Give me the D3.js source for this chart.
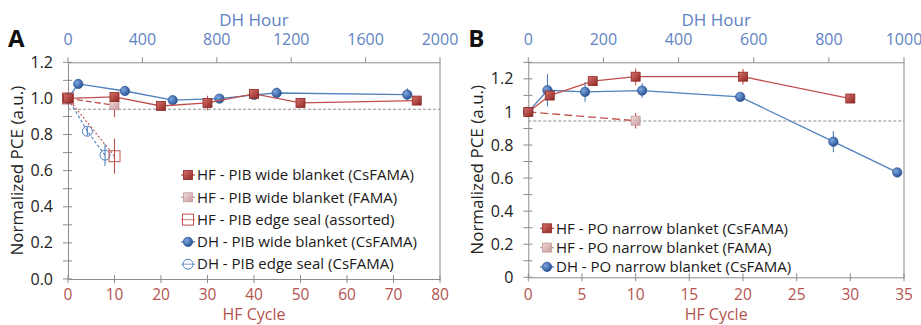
<!DOCTYPE html>
<html><head><meta charset="utf-8">
<script src="https://cdn.jsdelivr.net/npm/d3@7"></script>
<style>
html,body{margin:0;padding:0;background:#fff;}
svg{display:block;}
text{font-family:"Open Sans","Noto Sans",sans-serif;}
</style></head>
<body>
<svg id="chart" width="921" height="325"></svg>
<script>
// ---------- Data: Panel A ----------
const hfCycleA_wide = [0, 10, 20, 30, 40, 50, 75];
const pceA_wide     = [1.0, 1.008, 0.958, 0.975, 1.025, 0.975, 0.988];
const errA_wide     = [0.01, 0.015, 0.01, 0.04, 0.015, 0.025, 0.015];

const hfCycleA_fama = [0, 10];
const pceA_fama     = [1.0, 0.962];
const errA_fama     = [0, 0.065];

const hfCycleA_edge = [0, 10];
const pceA_edge     = [1.0, 0.68];
const errA_edge     = [0, 0.097];

const dhHourA_wide  = [0, 55, 306, 563, 814, 1000, 1122, 1824];
const pceA_dhWide   = [1.0, 1.08, 1.041, 0.99, 0.999, 1.02, 1.03, 1.021];
const errA_dhWide   = [0.01, 0.01, 0.01, 0.01, 0.01, 0.01, 0.03, 0.035];

const dhHourA_edge  = [0, 104, 199];
const pceA_dhEdge   = [1.0, 0.818, 0.686];
const errA_dhEdge   = [0, 0.025, 0.06];

const refLineA = 0.94;

const xTicksA_hf = [0,10,20,30,40,50,60,70,80];
const xTicksA_dh = [0,400,800,1200,1600,2000];
const yTicksA    = [0,0.2,0.4,0.6,0.8,1.0,1.2];

const legendA = [
  "HF - PIB wide blanket (CsFAMA)",
  "HF - PIB wide blanket (FAMA)",
  "HF - PIB edge seal (assorted)",
  "DH - PIB wide blanket (CsFAMA)",
  "DH - PIB edge seal (CsFAMA)"
];

// ---------- Data: Panel B ----------
const hfCycleB_cs   = [0, 2, 6, 10, 20, 30];
const pceB_cs       = [1.0, 1.099, 1.186, 1.213, 1.213, 1.081];
const errB_cs       = [0.005, 0.01, 0.03, 0.05, 0.047, 0.01];

const hfCycleB_fama = [0, 10];
const pceB_fama     = [1.0, 0.947];
const errB_fama     = [0, 0.047];

const dhHourB       = [0, 51, 151, 303, 564, 812, 982];
const pceB_dh       = [1.0, 1.131, 1.121, 1.129, 1.091, 0.82, 0.634];
const errB_dh       = [0.01, 0.098, 0.06, 0.045, 0.015, 0.064, 0.01];

const refLineB = 0.945;

const xTicksB_hf = [0,5,10,15,20,25,30,35];
const xTicksB_dh = [0,200,400,600,800,1000];
const yTicksB    = [0,0.2,0.4,0.6,0.8,1,1.2];

const legendB = [
  "HF - PO narrow blanket (CsFAMA)",
  "HF - PO narrow blanket (FAMA)",
  "DH - PO narrow blanket (CsFAMA)"
];

// ---------- Styles ----------
const RED = "#c0504d", BLUE = "#4f81bd";
const RED_TXT = "#b4534f", BLUE_TXT = "#5f82c4";
const AXIS = "#8c8c8c";

const svg = d3.select("#chart");
const defs = svg.append("defs");
const rg = defs.append("radialGradient").attr("id","blueBall").attr("cx","35%").attr("cy","35%").attr("r","65%");
rg.append("stop").attr("offset","0%").attr("stop-color","#7ea6e0");
rg.append("stop").attr("offset","100%").attr("stop-color","#2c5598");
const sg = defs.append("linearGradient").attr("id","redSq").attr("x1","0").attr("y1","0").attr("x2","1").attr("y2","1");
sg.append("stop").attr("offset","0%").attr("stop-color","#d9716c");
sg.append("stop").attr("offset","100%").attr("stop-color","#8e2723");
const pg = defs.append("linearGradient").attr("id","pinkSq").attr("x1","0").attr("y1","0").attr("x2","1").attr("y2","1");
pg.append("stop").attr("offset","0%").attr("stop-color","#f0dada");
pg.append("stop").attr("offset","100%").attr("stop-color","#c99a9a");

function marker(g, type, x, y) {
  if (type === "redSq") {
    g.append("rect").attr("x",x-4.5).attr("y",y-4.5).attr("width",9).attr("height",9)
      .attr("fill","url(#redSq)").attr("stroke","#8a2a26").attr("stroke-width",0.8);
  } else if (type === "pinkSq") {
    g.append("rect").attr("x",x-4.5).attr("y",y-4.5).attr("width",9).attr("height",9)
      .attr("fill","url(#pinkSq)").attr("stroke","#c09a9a").attr("stroke-width",0.8);
  } else if (type === "openSq") {
    g.append("rect").attr("x",x-5.5).attr("y",y-5.5).attr("width",11).attr("height",11)
      .attr("fill","none").attr("stroke",RED).attr("stroke-width",1);
  } else if (type === "blueDot") {
    g.append("circle").attr("cx",x).attr("cy",y).attr("r",4.7)
      .attr("fill","url(#blueBall)").attr("stroke","#2d5496").attr("stroke-width",0.7);
  } else if (type === "openDot") {
    g.append("circle").attr("cx",x).attr("cy",y).attr("r",5)
      .attr("fill","none").attr("stroke",BLUE).attr("stroke-width",1);
  }
}

function series(g, xs, ys, errs, xScale, yScale, color, dash, mtype, width) {
  const pts = xs.map((x,i)=>[xScale(x), yScale(ys[i]), i]);
  g.append("path").attr("d", d3.line()(pts.map(p=>[p[0],p[1]])))
    .attr("fill","none").attr("stroke",color).attr("stroke-width",width||1.3)
    .attr("stroke-dasharray",dash||null);
  pts.forEach(p=>{
    const e = errs[p[2]];
    if (e > 0.012) {
      g.append("line").attr("x1",p[0]).attr("x2",p[0])
        .attr("y1",yScale(ys[p[2]]-e)).attr("y2",yScale(ys[p[2]]+e))
        .attr("stroke",color).attr("stroke-width",1.1);
    }
  });
  pts.forEach(p=>marker(g, mtype, p[0], p[1]));
}

function panel(cfg) {
  const g = svg.append("g");
  const x = d3.scaleLinear().domain(cfg.xDomain).range([cfg.left, cfg.right]);
  const x2 = d3.scaleLinear().domain(cfg.x2Domain).range([cfg.left, cfg.right]);
  const y = d3.scaleLinear().domain(cfg.yDomain).range([cfg.bottom, cfg.top]);

  // frame
  g.append("line").attr("x1",cfg.right).attr("x2",cfg.right).attr("y1",cfg.top).attr("y2",cfg.bottom)
    .attr("stroke",AXIS).attr("stroke-width",1);

  // left axis, minor ticks every 0.1
  const yMinor = d3.range(0, cfg.yDomain[1]+1e-9, 0.1);
  const yAx = d3.axisLeft(y).tickValues(yMinor).tickSize(0).tickFormat("");
  const yg = g.append("g").attr("transform",`translate(${cfg.left},0)`).call(yAx);
  yg.select(".domain").attr("stroke",AXIS);
  yMinor.forEach(v=>{
    g.append("line").attr("x1",cfg.left-5).attr("x2",cfg.left+4).attr("y1",y(v)).attr("y2",y(v))
      .attr("stroke",AXIS).attr("stroke-width",1);
  });
  cfg.yTicks.forEach(v=>{
    g.append("text").attr("x",cfg.left-15).attr("y",y(v)).attr("dy","0.35em")
      .attr("text-anchor","end").attr("font-size",16).attr("fill","#222")
      .text(cfg.yFmt(v));
  });

  // bottom axis
  const xb = d3.axisBottom(x).tickValues(cfg.xTicks).tickSize(0).tickFormat("");
  const xbg = g.append("g").attr("transform",`translate(0,${cfg.bottom})`).call(xb);
  xbg.select(".domain").attr("stroke",AXIS);
  cfg.xTicks.forEach(v=>{
    g.append("line").attr("x1",x(v)).attr("x2",x(v)).attr("y1",cfg.bottom-4).attr("y2",cfg.bottom+4)
      .attr("stroke",AXIS);
    g.append("text").attr("x",x(v)).attr("y",294.5).attr("dy","0.35em")
      .attr("text-anchor","middle").attr("font-size",15.5).attr("fill",RED_TXT).text(v);
  });
  g.append("text").attr("x",(cfg.left+cfg.right)/2).attr("y",320)
    .attr("text-anchor","middle").attr("font-size",16).attr("fill",RED_TXT).text("HF Cycle");

  // top axis
  const xt = d3.axisTop(x2).tickValues(cfg.x2Ticks).tickSize(0).tickFormat("");
  const xtg = g.append("g").attr("transform",`translate(0,${cfg.top})`).call(xt);
  xtg.select(".domain").attr("stroke",AXIS);
  cfg.x2Ticks.forEach(v=>{
    g.append("line").attr("x1",x2(v)).attr("x2",x2(v)).attr("y1",cfg.top-5).attr("y2",cfg.top)
      .attr("stroke",AXIS);
    g.append("text").attr("x",x2(v)).attr("y",cfg.top-23).attr("dy","0.35em")
      .attr("text-anchor","middle").attr("font-size",16).attr("fill",BLUE_TXT).text(v);
  });
  g.append("text").attr("x",(cfg.left+cfg.right)/2).attr("y",cfg.top-42).attr("dy","0.35em")
    .attr("text-anchor","middle").attr("font-size",17).attr("fill",BLUE_TXT).text("DH Hour");

  // y title
  g.append("text").attr("transform",`translate(${cfg.left-51},${(cfg.top+cfg.bottom)/2}) rotate(-90)`)
    .attr("dy","0.35em").attr("text-anchor","middle").attr("font-size",17).attr("fill","#222")
    .text("Normalized PCE (a.u.)");

  // panel letter
  g.append("text").attr("x",cfg.left-60).attr("y",cfg.top-24).attr("dy","0.35em")
    .attr("text-anchor","start").attr("font-size",24).attr("font-weight","bold")
    .attr("font-family","'Liberation Sans Narrow','DejaVu Sans Condensed',sans-serif")
    .attr("fill","#111").text(cfg.letter);

  // reference line
  g.append("line").attr("x1",cfg.left).attr("x2",cfg.right).attr("y1",y(cfg.ref)).attr("y2",y(cfg.ref))
    .attr("stroke","#8f8f8f").attr("stroke-width",1.2).attr("stroke-dasharray","3,2");

  return {g, x, x2, y};
}

function legend(g, items, x0, y0, dy, fs) {
  items.forEach((it,i)=>{
    const yy = y0 + i*dy;
    g.append("line").attr("x1",x0-7).attr("x2",x0+7).attr("y1",yy).attr("y2",yy)
      .attr("stroke",it.color).attr("stroke-width",1.3);
    marker(g, it.type, x0, yy);
    g.append("text").attr("x",x0+9).attr("y",yy).attr("dy","0.35em")
      .attr("font-size",fs).attr("fill","#1a1a1a").text(it.label);
  });
}

// ---------- Panel A ----------
const A = panel({
  letter:"A", left:68, right:440, top:62.3, bottom:279,
  xDomain:[0,80], x2Domain:[0,2000], yDomain:[0,1.2],
  xTicks:xTicksA_hf, x2Ticks:xTicksA_dh, yTicks:yTicksA,
  yFmt:d3.format(".1f"), ref:refLineA
});
series(A.g, dhHourA_edge, pceA_dhEdge, errA_dhEdge, A.x2, A.y, BLUE, "3,2", "openDot", 1.1);
series(A.g, hfCycleA_edge, pceA_edge, errA_edge, A.x, A.y, RED, "2,2", "openSq", 1.1);
series(A.g, hfCycleA_fama, pceA_fama, errA_fama, A.x, A.y, RED, "6,3", "pinkSq", 1.3);
series(A.g, dhHourA_wide, pceA_dhWide, errA_dhWide, A.x2, A.y, BLUE, null, "blueDot", 1.3);
series(A.g, hfCycleA_wide, pceA_wide, errA_wide, A.x, A.y, RED, null, "redSq", 1.3);
legend(A.g, [
  {label:legendA[0], type:"redSq", color:RED},
  {label:legendA[1], type:"pinkSq", color:"#c9a0a0"},
  {label:legendA[2], type:"openSq", color:"#d89a98"},
  {label:legendA[3], type:"blueDot", color:BLUE},
  {label:legendA[4], type:"openDot", color:"#9db4dc"}
], 188, 175, 22.3, 15);

// ---------- Panel B ----------
const B = panel({
  letter:"B", left:528.3, right:904, top:62.3, bottom:277.3,
  xDomain:[0,35], x2Domain:[0,1000], yDomain:[0,1.3],
  xTicks:xTicksB_hf, x2Ticks:xTicksB_dh, yTicks:yTicksB,
  yFmt:d3.format(""), ref:refLineB
});
series(B.g, hfCycleB_fama, pceB_fama, errB_fama, B.x, B.y, RED, "8,4", "pinkSq", 1.3);
series(B.g, dhHourB, pceB_dh, errB_dh, B.x2, B.y, BLUE, null, "blueDot", 1.3);
series(B.g, hfCycleB_cs, pceB_cs, errB_cs, B.x, B.y, RED, null, "redSq", 1.3);
legend(B.g, [
  {label:legendB[0], type:"redSq", color:RED},
  {label:legendB[1], type:"pinkSq", color:"#c9a0a0"},
  {label:legendB[2], type:"blueDot", color:BLUE}
], 547, 228.3, 19.3, 15);
</script>
</body></html>
